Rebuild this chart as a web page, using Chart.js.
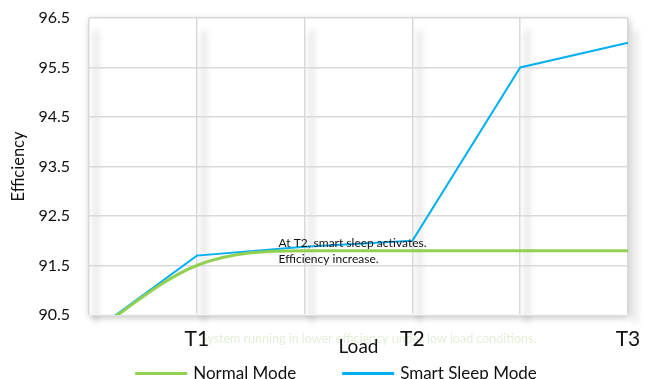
<!DOCTYPE html>
<html>
<head>
<meta charset="utf-8">
<script src="https://cdn.jsdelivr.net/npm/chart.js@4"></script>
<style>
  html, body { margin: 0; padding: 0; background: #fff; }
  #wrap { width: 652px; height: 379px; }
</style>
</head>
<body>
<div id="wrap"><canvas id="c" width="652" height="379"></canvas></div>
<script>
// Load steps along the x axis (only T1..T3 are labelled)
const loadSteps = ['', 'T1', '', 'T2', '', 'T3'];
// Efficiency per load step
const normalMode = [90.1, 91.5, 91.8, 91.8, 91.8, 91.8];
const smartSleepMode = [90.1, 91.7, 91.88, 92.0, 95.5, 96.0];
// Efficiency tick marks
const efficiencyTicks = [90.5, 91.5, 92.5, 93.5, 94.5, 95.5, 96.5];

const noteLines = ['At T2, smart sleep activates.', 'Efficiency increase.'];
const lowLoadNote = 'System running in lower efficiency under low load conditions.';

const FONT = 'Lato, "Open Sans", sans-serif';

// White plot panel with a soft drop shadow, plus shading beside vertical grid lines
const plotBackdrop = {
  id: 'plotBackdrop',
  beforeDraw(chart) {
    const { ctx, chartArea: a, scales } = chart;
    ctx.save();
    ctx.shadowColor = 'rgba(0,0,0,0.28)';
    ctx.shadowBlur = 7;
    ctx.shadowOffsetX = 1;
    ctx.shadowOffsetY = 2;
    ctx.fillStyle = '#fff';
    ctx.fillRect(a.left, a.top, a.width, a.height);
    ctx.restore();

    ctx.save();
    ctx.beginPath();
    ctx.rect(a.left, a.top, a.width + 14, a.height + 12);
    ctx.clip();
    ctx.filter = 'blur(3px)';
    ctx.strokeStyle = 'rgba(0,0,0,0.11)';
    ctx.lineWidth = 5;
    scales.x.ticks.forEach((t, i) => {
      const x = scales.x.getPixelForTick(i) + 7;
      ctx.beginPath();
      ctx.moveTo(x, a.top + 12);
      ctx.lineTo(x, a.bottom + 8);
      ctx.stroke();
    });
    ctx.restore();

    // faint note under the axis (the tick labels are painted over it)
    ctx.save();
    ctx.font = '12.5px ' + FONT;
    ctx.fillStyle = '#e2efd9';
    ctx.textBaseline = 'middle';
    ctx.textAlign = 'left';
    ctx.fillText(lowLoadNote, scales.x.getPixelForValue(1) + 4, a.bottom + 24);
    ctx.restore();
  }
};

// Annotation text next to T2
const t2Note = {
  id: 't2Note',
  afterDatasetsDraw(chart) {
    const { ctx, scales } = chart;
    ctx.save();
    ctx.font = '12px ' + FONT;
    ctx.fillStyle = '#111';
    ctx.textBaseline = 'middle';
    ctx.textAlign = 'left';
    const x = scales.x.getPixelForValue(2) - 26;
    const y = scales.y.getPixelForValue(91.95);
    noteLines.forEach((line, i) => ctx.fillText(line, x, y + i * 16));
    ctx.restore();
  }
};

// Legend row along the bottom edge: line sample + series name
const bottomLegend = {
  id: 'bottomLegend',
  afterDraw(chart) {
    const { ctx } = chart;
    const sample = 52, textGap = 6, itemGap = 46;
    ctx.save();
    ctx.font = '17px ' + FONT;
    const items = chart.data.datasets.map(ds => ({
      label: ds.label, color: ds.borderColor, w: ctx.measureText(ds.label).width
    }));
    const total = items.reduce((s, it) => s + sample + textGap + it.w, 0) + itemGap * (items.length - 1);
    let x = chart.width / 2 + 10 - total / 2;
    const lineY = 373.5;
    items.forEach(it => {
      ctx.fillStyle = it.color;
      ctx.fillRect(x, lineY - 1.5, sample, 3);
      x += sample + textGap;
      ctx.fillStyle = '#111';
      ctx.textBaseline = 'alphabetic';
      ctx.textAlign = 'left';
      ctx.fillText(it.label, x, 379);
      x += it.w + itemGap;
    });
    ctx.restore();
  }
};

new Chart(document.getElementById('c'), {
  type: 'line',
  data: {
    labels: loadSteps,
    datasets: [
      {
        label: 'Normal Mode',
        data: normalMode,
        borderColor: '#92d050',
        backgroundColor: '#92d050',
        borderWidth: 3,
        cubicInterpolationMode: 'monotone',
        pointRadius: 0,
        pointHoverRadius: 0,
        fill: false
      },
      {
        label: 'Smart Sleep Mode',
        data: smartSleepMode,
        borderColor: '#00b0f0',
        backgroundColor: '#00b0f0',
        borderWidth: 2,
        tension: 0,
        pointRadius: 0,
        pointHoverRadius: 0,
        fill: false
      }
    ]
  },
  options: {
    responsive: false,
    animation: false,
    devicePixelRatio: 1,
    layout: { padding: { top: 18, right: 24, left: 0, bottom: 21 } },
    plugins: {
      tooltip: { enabled: false },
      legend: { display: false }
    },
    scales: {
      x: {
        offset: false,
        grid: { color: '#d9d9d9', lineWidth: 1.5, drawTicks: true, tickLength: 12, tickColor: 'rgba(0,0,0,0)' },
        border: { display: false },
        ticks: {
          font: { family: FONT, size: 21 },
          color: '#111',
          padding: 0,
          maxRotation: 0,
          autoSkip: false
        },
        title: {
          display: true,
          text: 'Load',
          font: { family: FONT, size: 19 },
          color: '#111',
          padding: { top: -17, bottom: 0 }
        }
      },
      y: {
        min: 90.5,
        max: 96.5,
        afterBuildTicks(scale) {
          scale.ticks = efficiencyTicks.map(v => ({ value: v }));
        },
        afterFit(scale) { scale.width = 89; },
        grid: {
          color: c => (c.tick && c.tick.value === efficiencyTicks[0] ? '#f4f4f4' : '#d9d9d9'),
          lineWidth: 1.5, drawTicks: true, tickLength: 19, tickColor: 'rgba(0,0,0,0)'
        },
        border: { display: false },
        ticks: {
          font: { family: FONT, size: 16 },
          color: '#111',
          padding: 0,
          callback: v => v.toFixed(1)
        },
        title: {
          display: true,
          text: 'Efficiency',
          font: { family: FONT, size: 16.5 },
          color: '#111',
          padding: { top: 9, bottom: 0 }
        }
      }
    }
  },
  plugins: [plotBackdrop, t2Note, bottomLegend]
});
</script>
</body>
</html>
